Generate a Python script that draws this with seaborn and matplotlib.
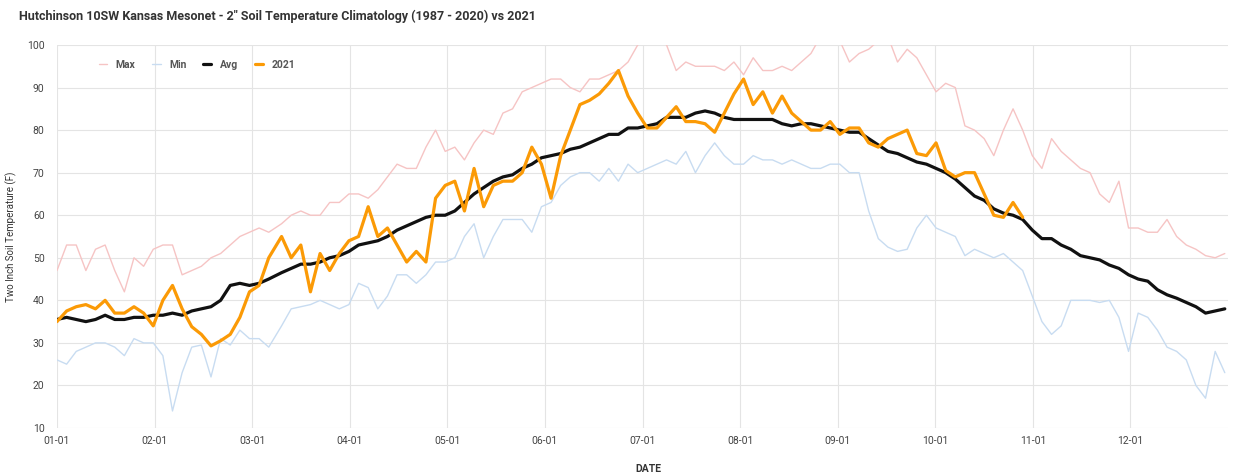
import numpy as np
import pandas as pd
import matplotlib
matplotlib.use("Agg")
import matplotlib.pyplot as plt
import seaborn as sns

# ---------------- data (day of year) ----------------
days = list(range(0, 67, 3)) + list(range(70, 365, 3))

max_vals = [47, 53, 53, 47, 52, 53, 47, 42, 50, 48, 52, 53,
            53, 46, 47, 48, 50, 51, 53, 55, 56, 57, 56,
            58, 60, 61, 60, 60, 63, 63, 65, 65, 64, 66, 69,
            72, 71, 71, 76, 80, 75, 76, 73, 77, 80, 79, 84,
            85, 89, 90, 91, 92, 92, 90, 89, 92, 92, 93, 94,
            96, 100, 102, 103, 100, 94, 96, 95, 95, 95, 94, 96,
            93, 97, 94, 94, 95, 94, 96, 98, 102, 103, 101, 96,
            98, 99, 101, 102, 96, 99, 97, 93, 89, 91, 90, 81,
            80, 78, 74, 80, 85, 80, 74, 71, 78, 75, 73, 71,
            70, 65, 63, 68, 57, 57, 56, 56, 59, 55, 53, 52, 50.5, 50, 51]

min_vals = [26, 25, 28, 29, 30, 30, 29, 27, 31, 30, 30, 27,
            14, 23, 29, 29.5, 22, 31, 29.5, 33, 31, 31, 29,
            34, 38, 38.5, 39, 40, 39, 38, 39, 44, 43, 38, 41,
            46, 46, 44, 46, 49, 49, 50, 55, 58, 50, 55, 59,
            59, 59, 56, 62, 63, 67, 69, 70, 70, 68, 71, 68,
            72, 70, 71, 72, 73, 72, 75, 70, 74, 77, 74, 72,
            72, 74, 73, 73, 72, 73, 72, 71, 71, 72, 72, 70,
            70, 61, 54.5, 52.5, 51.5, 52, 57, 60, 57, 56, 55, 50.5,
            52, 51, 50, 51, 49, 47, 41, 35, 32, 34, 40, 40,
            40, 39.5, 40, 36, 28, 37, 36, 33, 29, 28, 26, 20, 17, 28, 23]

avg_vals = [35.5, 36, 35.5, 35, 35.5, 36.5, 35.5, 35.5, 36, 36, 36.5, 36.5,
            37, 36.5, 37.5, 38, 38.5, 40, 43.5, 44, 43.5, 44, 45,
            46.5, 47.5, 48.5, 48.5, 49, 50, 50.5, 51.5, 53, 53.5, 54, 55,
            56.5, 57.5, 58.5, 59.5, 60, 60, 61, 63, 65, 66.5, 68, 69,
            69.5, 71, 72, 73.5, 74, 74.5, 75.5, 76, 77, 78, 79, 79,
            80.5, 80.5, 81, 81.5, 83, 83, 83, 84, 84.5, 84, 83, 82.5,
            82.5, 82.5, 82.5, 82.5, 81.5, 81, 81.5, 81.5, 81, 80.5, 80, 79.5,
            79.5, 78, 76.5, 75, 74.5, 73.5, 72.5, 72, 71, 70, 68.5, 66.5,
            64.5, 63.5, 61.5, 60.5, 60, 59, 56.5, 54.5, 54.5, 53, 52, 50.5,
            50, 49.5, 48.3, 47.5, 46, 45, 44.5, 42.5, 41.3, 40.5, 39.5, 38.5, 37, 37.5, 38]

y2021_vals = [35, 37.5, 38.5, 39, 38, 40, 37, 37, 38.5, 37, 34, 40,
              43.5, 38, 33.8, 32, 29.3, 30.5, 32, 36, 42, 43.5, 50,
              55, 50, 53, 42, 51, 47, 51, 54, 55, 62, 55, 57,
              53, 49, 51.5, 49, 64, 67, 68, 61, 71, 62, 67, 68,
              68, 70, 76, 72, 64, 74, 80, 86, 87, 88.5, 91, 94,
              88, 84, 80.5, 80.5, 83, 85.5, 82, 82, 81.5, 79.5, 84, 88.5,
              92, 86, 89, 84, 88, 84, 82, 80, 80, 82, 79, 80.5,
              80.5, 77, 76, 78, 79, 80, 74.5, 74, 77, 70.5, 69, 70,
              70, 65, 60, 59.5, 63, 59.5]

tick_labels = ["01-01", "02-01", "03-01", "04-01", "05-01", "06-01",
               "07-01", "08-01", "09-01", "10-01", "11-01", "12-01"]
y_ticks = [10, 20, 30, 40, 50, 60, 70, 80, 90, 100]

title = "Hutchinson 10SW Kansas Mesonet - 2\" Soil Temperature Climatology (1987 - 2020) vs 2021"

# ---------------- plotting ----------------
sns.set_style("white")
plt.rcParams["font.family"] = ["Roboto", "DejaVu Sans"]

clim = pd.DataFrame({"day": days, "Max": max_vals, "Min": min_vals, "Avg": avg_vals})
cur = pd.DataFrame({"day": days[:len(y2021_vals)], "2021": y2021_vals})

fig = plt.figure(figsize=(12.33, 4.75), dpi=100)
ax = fig.add_axes([57 / 1233, 1 - 428 / 475, (1228 - 57) / 1233, (428 - 45) / 475])

sns.lineplot(data=clim, x="day", y="Max", ax=ax, color="#f6c4c4", linewidth=1.0, label="Max")
sns.lineplot(data=clim, x="day", y="Min", ax=ax, color="#c8dcf1", linewidth=1.0, label="Min")
sns.lineplot(data=clim, x="day", y="Avg", ax=ax, color="#111111", linewidth=2.3, label="Avg")
sns.lineplot(data=cur, x="day", y="2021", ax=ax, color="#fb9a06", linewidth=2.3, label="2021")

ax.set_xlim(0, 365)
ax.set_ylim(10, 100)
ax.set_xticks([k * 365 / 12 for k in range(12)])
ax.set_xticklabels(tick_labels)
ax.set_yticks(y_ticks)
ax.grid(True, color="#e4e4e4", linewidth=0.8)
ax.set_axisbelow(True)
for s in ax.spines.values():
    s.set_visible(False)
ax.tick_params(axis="both", length=0, labelsize=7.5, labelcolor="#444444")
ax.tick_params(axis="y", pad=9)
ax.tick_params(axis="x", pad=6)

ax.set_xlabel("DATE", fontsize=7.5, fontweight="bold", color="#333333")
ax.xaxis.set_label_coords(0.505, -0.095)
ax.set_ylabel("Two Inch Soil Temperature (F)", fontsize=7, color="#333333")
ax.yaxis.set_label_coords(-0.034, 0.5)

leg = ax.legend(ncol=4, loc="center left", bbox_to_anchor=(0.028, 0.948), frameon=False,
                fontsize=7.5, handlelength=0.8, handletextpad=0.8, columnspacing=1.6)
for t in leg.get_texts():
    t.set_color("#555555")
    t.set_fontweight("bold")

fig.text(19 / 1233, 1 - 16 / 475, title, fontsize=9, fontweight="bold", color="#333333",
         ha="left", va="center")

fig.savefig("out.png", dpi=100)
